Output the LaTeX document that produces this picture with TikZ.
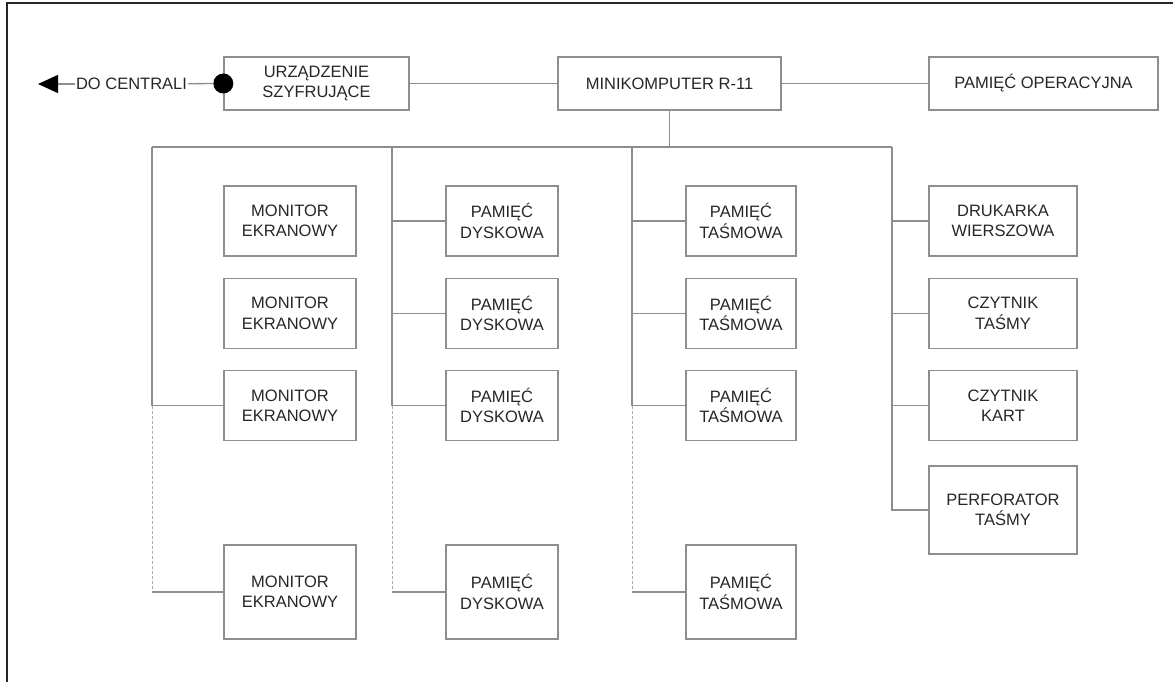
\documentclass[tikz,border=0pt]{standalone}
\usepackage{fontspec}
\setmainfont{Liberation Sans}
\usetikzlibrary{positioning, arrows.meta}
\definecolor{linegray}{HTML}{8E8E8E}
\definecolor{dashgray}{HTML}{ABABAB}
\definecolor{textgray}{HTML}{262626}

\begin{document}
\begin{tikzpicture}[x=1pt, y=-1pt,
        node distance=21pt,
        box/.style={rectangle, draw=linegray, line width=1.3pt, minimum height=70pt, align=center, text=textgray, inner sep=2pt, font=\fontsize{16.5}{20.5}\selectfont},
        tall/.style={minimum height=94pt},
        mon/.style={minimum width=132pt},
        dysk/.style={minimum width=112pt},
        tasm/.style={minimum width=110pt},
        urz/.style={minimum width=148pt},
        top/.style={minimum height=53pt},
        wire/.style={draw=linegray, line width=1.3pt},
        dashwire/.style={draw=dashgray, line width=1pt, dash pattern=on 3pt off 2pt},
        kropka/.style={circle, fill=black, minimum size=20pt, inner sep=0pt}
    ]
        \useasboundingbox (0,0) rectangle (1173,682);
        \draw[line width=1.6pt, black!85] (7,682) -- (7,3) -- (1173,3);

        % gorny rzad
        \node[box, top, minimum width=185pt] (szyfr) at (316.5,83.5) {URZĄDZENIE\\SZYFRUJĄCE};
        \node[box, top, minimum width=223pt] (mini) at (669.5,83.5) {MINIKOMPUTER R-11};
        \node[box, top, minimum width=229pt] (pamop) at (1043.5,83.5) {PAMIĘĆ OPERACYJNA};
        \node[kropka] (dot) at (szyfr.west) {};
        \node[text=textgray, inner sep=1pt, font=\fontsize{16.5}{20.5}\selectfont] (centrala) at (131.5,84) {DO CENTRALI};
        \coordinate (grot) at (38,84);

        % kolumna 1
        \node[box, mon] (mon1) at (290,221) {MONITOR\\EKRANOWY};
        \node[box, mon, below=of mon1] (mon2) {MONITOR\\EKRANOWY};
        \node[box, mon, below=of mon2] (mon3) {MONITOR\\EKRANOWY};
        \node[box, mon, tall, below=103pt of mon3] (mon4) {MONITOR\\EKRANOWY};
        % kolumna 2
        \node[box, dysk] (dysk1) at (502,221) {PAMIĘĆ\\DYSKOWA};
        \node[box, dysk, below=of dysk1] (dysk2) {PAMIĘĆ\\DYSKOWA};
        \node[box, dysk, below=of dysk2] (dysk3) {PAMIĘĆ\\DYSKOWA};
        \node[box, dysk, tall, below=103pt of dysk3] (dysk4) {PAMIĘĆ\\DYSKOWA};
        % kolumna 3
        \node[box, tasm] (tasm1) at (741,221) {PAMIĘĆ\\TAŚMOWA};
        \node[box, tasm, below=of tasm1] (tasm2) {PAMIĘĆ\\TAŚMOWA};
        \node[box, tasm, below=of tasm2] (tasm3) {PAMIĘĆ\\TAŚMOWA};
        \node[box, tasm, tall, below=103pt of tasm3] (tasm4) {PAMIĘĆ\\TAŚMOWA};
        % kolumna 4
        \node[box, urz] (druk) at (1003,221) {DRUKARKA\\WIERSZOWA};
        \node[box, urz, below=of druk] (cztasm) {CZYTNIK\\TAŚMY};
        \node[box, urz, below=of cztasm] (czkart) {CZYTNIK\\KART};
        \node[box, urz, minimum height=88pt, below=24pt of czkart] (perf) {PERFORATOR\\TAŚMY};

        % polaczenia
        \draw[wire] (szyfr) -- (mini);
        \draw[wire] (mini) -- (pamop);
        \draw[wire] (dot) -- (centrala);
        \draw[wire, -{Triangle[length=20pt, width=18pt, color=black]}] (centrala) -- (grot);

        \coordinate (bus) at (669.5,147);
        \coordinate (k1) at (152,147);
        \coordinate (k2) at (392,147);
        \coordinate (k3) at (632,147);
        \coordinate (k4) at (892,147);
        \draw[wire] (mini) -- (bus);
        \draw[wire] (k1) -- (k4);

        \draw[wire] (k1) |- (mon3);
        \draw[dashwire] (k1 |- mon3) -- (k1 |- mon4);
        \draw[wire] (k1 |- mon4) -- (mon4);

        \draw[wire] (k2) -- (k2 |- dysk3);
        \draw[wire] (k2 |- dysk1) -- (dysk1);
        \draw[wire] (k2 |- dysk2) -- (dysk2);
        \draw[wire] (k2 |- dysk3) -- (dysk3);
        \draw[dashwire] (k2 |- dysk3) -- (k2 |- dysk4);
        \draw[wire] (k2 |- dysk4) -- (dysk4);

        \draw[wire] (k3) -- (k3 |- tasm3);
        \draw[wire] (k3 |- tasm1) -- (tasm1);
        \draw[wire] (k3 |- tasm2) -- (tasm2);
        \draw[wire] (k3 |- tasm3) -- (tasm3);
        \draw[dashwire] (k3 |- tasm3) -- (k3 |- tasm4);
        \draw[wire] (k3 |- tasm4) -- (tasm4);

        \draw[wire] (k4) |- (perf);
        \draw[wire] (k4 |- druk) -- (druk);
        \draw[wire] (k4 |- cztasm) -- (cztasm);
        \draw[wire] (k4 |- czkart) -- (czkart);
    \end{tikzpicture}
\end{document}
